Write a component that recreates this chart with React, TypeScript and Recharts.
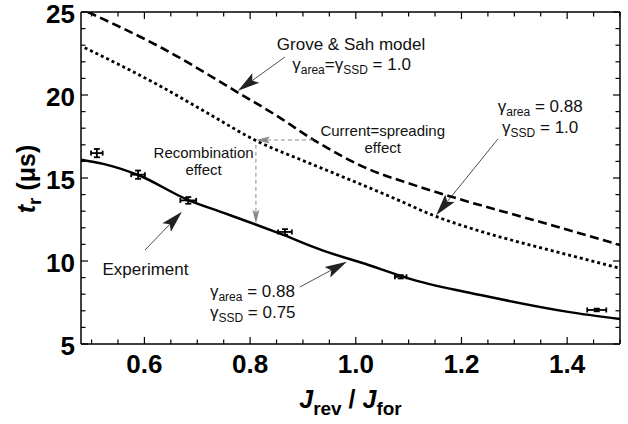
import React from 'react';
import {
  ComposedChart,
  Line,
  Scatter,
  ErrorBar,
  XAxis,
  YAxis,
  ReferenceLine,
  ReferenceDot,
} from 'recharts';

const FONT = '"Liberation Sans", Arial, Helvetica, sans-serif';

// Grove & Sah model (γarea = γSSD = 1.0)
const groveSahX = [0.493, 0.635, 0.777, 0.853, 0.92, 1.027, 1.1, 1.18, 1.336, 1.42, 1.5];
const groveSahY = [25.0, 22.8, 20.15, 18.7, 17.3, 15.5, 14.68, 13.88, 12.47, 11.7, 10.96];

// Current-spreading model (γarea = 0.88, γSSD = 1.0)
const spreadingX = [0.487, 0.632, 0.72, 0.815, 0.9, 0.964, 1.06, 1.153, 1.24, 1.33, 1.42, 1.5];
const spreadingY = [22.85, 20.5, 18.9, 17.19, 16.05, 15.22, 13.95, 12.67, 11.75, 10.96, 10.22, 9.56];

// Full model (γarea = 0.88, γSSD = 0.75)
const fullModelX = [0.48, 0.522, 0.588, 0.683, 0.75, 0.813, 0.863, 0.932, 1.024, 1.109, 1.236, 1.399, 1.5];
const fullModelY = [16.1, 15.85, 15.18, 13.67, 12.9, 12.17, 11.57, 10.7, 9.76, 8.86, 7.95, 6.95, 6.5];

// Measured recovery times with uncertainties
const expX = [0.51, 0.588, 0.683, 0.866, 1.085, 1.456];
const expY = [16.5, 15.2, 13.65, 11.75, 9.05, 7.05];
const expXErr = [0.011, 0.013, 0.015, 0.013, 0.011, 0.018];
const expYErr = [0.25, 0.25, 0.2, 0.17, 0.1, 0.08];

// Axis ticks
const xTickValues = [
  0.5, 0.55, 0.6, 0.65, 0.7, 0.75, 0.8, 0.85, 0.9, 0.95, 1.0,
  1.05, 1.1, 1.15, 1.2, 1.25, 1.3, 1.35, 1.4, 1.45, 1.5,
];
const xLabelTicks = [0.6, 0.8, 1.0, 1.2, 1.4];
const yTickValues = [5, 6, 7, 8, 9, 10, 11, 12, 13, 14, 15, 16, 17, 18, 19, 20, 21, 22, 23, 24, 25];
const yLabelTicks = [5, 10, 15, 20, 25];

const toRows = (xs: number[], ys: number[]) => xs.map((x, i) => ({ x, y: ys[i] }));
const groveSah = toRows(groveSahX, groveSahY);
const spreading = toRows(spreadingX, spreadingY);
const fullModel = toRows(fullModelX, fullModelY);
const experiment = expX.map((x, i) => ({ x, y: expY[i], ex: expXErr[i], ey: expYErr[i] }));

const isIn = (v: number, list: number[]) => list.some((t) => Math.abs(t - v) < 1e-6);

type Seg = [string, boolean?];

// Annotation text, placed in data coordinates
const notes: { x: number; y: number; anchor: string; size: number; segs: Seg[] }[] = [
  { x: 0.991, y: 22.71, anchor: 'middle', size: 17, segs: [['Grove & Sah model']] },
  { x: 0.992, y: 21.51, anchor: 'middle', size: 17, segs: [['γ'], ['area', true], ['=γ'], ['SSD', true], [' = 1.0']] },
  { x: 1.349, y: 18.98, anchor: 'middle', size: 17, segs: [['γ'], ['area', true], [' = 0.88']] },
  { x: 1.349, y: 17.71, anchor: 'middle', size: 17, segs: [['γ'], ['SSD', true], [' = 1.0']] },
  { x: 1.051, y: 17.53, anchor: 'middle', size: 15, segs: [['Current=spreading']] },
  { x: 1.051, y: 16.49, anchor: 'middle', size: 15, segs: [['effect']] },
  { x: 0.712, y: 16.2, anchor: 'middle', size: 15, segs: [['Recombination']] },
  { x: 0.712, y: 15.18, anchor: 'middle', size: 15, segs: [['effect']] },
  { x: 0.602, y: 9.16, anchor: 'middle', size: 17, segs: [['Experiment']] },
  { x: 0.724, y: 7.83, anchor: 'start', size: 17, segs: [['γ'], ['area', true], [' = 0.88']] },
  { x: 0.724, y: 6.58, anchor: 'start', size: 17, segs: [['γ'], ['SSD', true], [' = 0.75']] },
];

// Pointer arrows: from -> tip, in data coordinates
const blackArrows = [
  { from: { x: 0.866, y: 22.29 }, to: { x: 0.777, y: 20.25 } },
  { from: { x: 1.269, y: 17.35 }, to: { x: 1.152, y: 12.75 } },
  { from: { x: 0.601, y: 10.66 }, to: { x: 0.671, y: 12.97 } },
  { from: { x: 0.894, y: 8.43 }, to: { x: 0.983, y: 9.95 } },
];
const grayArrows = [
  { from: { x: 0.919, y: 17.29 }, to: { x: 0.811, y: 17.29 } },
  { from: { x: 0.811, y: 17.0 }, to: { x: 0.811, y: 12.25 } },
];

const RichText = ({ x, y, anchor, size, segs }: any) => {
  const sub = Math.round(size * 0.72);
  const shift = Math.round(size * 0.25);
  let cur = 0;
  return (
    <text x={x} y={y} textAnchor={anchor} fontFamily={FONT} fontSize={size} fill="#111">
      {segs.map(([t, isSub]: Seg, i: number) => {
        const target = isSub ? shift : 0;
        const dy = target - cur;
        cur = target;
        return (
          <tspan key={i} dy={dy} fontSize={isSub ? sub : size}>
            {t}
          </tspan>
        );
      })}
    </text>
  );
};

const makeArrow = (color: string, width: number, headLen: number, headHalf: number, dash?: string) =>
  (p: any) => {
    const { x1, y1, x2, y2 } = p;
    const dx = x2 - x1;
    const dy = y2 - y1;
    const len = Math.hypot(dx, dy) || 1;
    const ux = dx / len;
    const uy = dy / len;
    const bx = x2 - ux * headLen;
    const by = y2 - uy * headLen;
    const nx = x2 - ux * headLen * 0.8;
    const ny = y2 - uy * headLen * 0.8;
    const px = -uy;
    const py = ux;
    const pts = [
      `${x2},${y2}`,
      `${bx + px * headHalf},${by + py * headHalf}`,
      `${nx},${ny}`,
      `${bx - px * headHalf},${by - py * headHalf}`,
    ].join(' ');
    return (
      <g>
        <line x1={x1} y1={y1} x2={nx} y2={ny} stroke={color} strokeWidth={width} strokeDasharray={dash} />
        <polygon points={pts} fill={color} stroke="none" />
      </g>
    );
  };

const blackArrowShape = makeArrow('#222', 0.8, 22, 6);
const grayArrowShape = makeArrow('#8a8a8a', 1, 14, 3.5, '4 3');

const BottomTick = (props: any) => {
  const { x, y, payload } = props;
  const v = payload.value;
  const major = isIn(v, xLabelTicks);
  return (
    <g>
      <line x1={x} x2={x} y1={y} y2={y - (major ? 7 : 4.5)} stroke="#000" strokeWidth={1.2} />
      {major && (
        <text x={x} y={y + 29} textAnchor="middle" fontFamily={FONT} fontWeight="bold" fontSize={26} fill="#000">
          {v.toFixed(1)}
        </text>
      )}
    </g>
  );
};

const TopTick = (props: any) => {
  const { x, y, payload } = props;
  const major = isIn(payload.value, xLabelTicks);
  return <line x1={x} x2={x} y1={y} y2={y + (major ? 7 : 4.5)} stroke="#000" strokeWidth={1.2} />;
};

const LeftTick = (props: any) => {
  const { x, y, payload } = props;
  const v = payload.value;
  const major = isIn(v, yLabelTicks);
  return (
    <g>
      <line x1={x} x2={x + (major ? 7 : 4.5)} y1={y} y2={y} stroke="#000" strokeWidth={1.2} />
      {major && (
        <text x={x - 6} y={y + 11} textAnchor="end" fontFamily={FONT} fontWeight="bold" fontSize={26} fill="#000">
          {v}
        </text>
      )}
    </g>
  );
};

const RightTick = (props: any) => {
  const { x, y, payload } = props;
  const major = isIn(payload.value, yLabelTicks);
  return <line x1={x} x2={x - (major ? 7 : 4.5)} y1={y} y2={y} stroke="#000" strokeWidth={1.2} />;
};

const XTitle = (props: any) => {
  const vb = props.viewBox;
  const cx = vb.x + vb.width / 2;
  const by = vb.y + 64;
  return (
    <text x={cx} y={by} textAnchor="middle" fontFamily={FONT} fontWeight="bold" fontSize={25} fill="#000">
      <tspan fontStyle="italic">J</tspan>
      <tspan fontSize={19} dy={7}>rev</tspan>
      <tspan dy={-7}> / </tspan>
      <tspan fontStyle="italic">J</tspan>
      <tspan fontSize={19} dy={7}>for</tspan>
    </text>
  );
};

const YTitle = (props: any) => {
  const vb = props.viewBox;
  const bx = vb.x + 35;
  const cy = vb.y + vb.height / 2 + 1;
  return (
    <text
      transform={`translate(${bx}, ${cy}) rotate(-90)`}
      x={0}
      y={0}
      textAnchor="middle"
      fontFamily={FONT}
      fontWeight="bold"
      fontSize={25}
      fill="#000"
    >
      <tspan fontStyle="italic">t</tspan>
      <tspan fontSize={19} dy={6}>r</tspan>
      <tspan dy={-6}> (μs)</tspan>
    </text>
  );
};

const axisLine = { stroke: '#000', strokeWidth: 1.5 };

export default function App() {
  return (
    <div style={{ position: 'absolute', left: 0, top: 0, width: 628, height: 424, background: '#fff', overflow: 'hidden' }}>
      <ComposedChart width={628} height={424} margin={{ top: 11, right: 7, bottom: 0, left: 0 }}>
        <XAxis
          type="number"
          dataKey="x"
          domain={[0.48, 1.5]}
          allowDataOverflow
          ticks={xTickValues}
          interval={0}
          tickSize={0}
          tickMargin={0}
          tickLine={false}
          height={80}
          axisLine={axisLine}
          tick={BottomTick}
          label={{ content: XTitle }}
        />
        <XAxis
          xAxisId="top"
          orientation="top"
          type="number"
          dataKey="x"
          domain={[0.48, 1.5]}
          allowDataOverflow
          ticks={xTickValues}
          interval={0}
          tickSize={0}
          tickMargin={0}
          tickLine={false}
          height={1}
          axisLine={axisLine}
          tick={TopTick}
        />
        <YAxis
          type="number"
          dataKey="y"
          domain={[5, 25]}
          allowDataOverflow
          ticks={yTickValues}
          interval={0}
          tickSize={0}
          tickMargin={0}
          tickLine={false}
          width={81}
          axisLine={axisLine}
          tick={LeftTick}
          label={{ content: YTitle }}
        />
        <YAxis
          yAxisId="right"
          orientation="right"
          type="number"
          dataKey="y"
          domain={[5, 25]}
          allowDataOverflow
          ticks={yTickValues}
          interval={0}
          tickSize={0}
          tickMargin={0}
          tickLine={false}
          width={1}
          axisLine={axisLine}
          tick={RightTick}
        />

        {/* invisible series bound to the frame axes so they render */}
        <Line
          data={fullModel}
          dataKey="y"
          xAxisId="top"
          yAxisId="right"
          stroke="none"
          dot={false}
          activeDot={false}
          legendType="none"
          isAnimationActive={false}
        />

        <Line
          data={groveSah}
          dataKey="y"
          type="monotone"
          stroke="#000"
          strokeWidth={2.6}
          strokeDasharray="9 4.5"
          dot={false}
          activeDot={false}
          isAnimationActive={false}
        />
        <Line
          data={spreading}
          dataKey="y"
          type="monotone"
          stroke="#000"
          strokeWidth={2.8}
          strokeDasharray="3 3"
          dot={false}
          activeDot={false}
          isAnimationActive={false}
        />
        <Line
          data={fullModel}
          dataKey="y"
          type="monotone"
          stroke="#000"
          strokeWidth={2.5}
          dot={false}
          activeDot={false}
          isAnimationActive={false}
        />
        <Scatter data={experiment} dataKey="y" isAnimationActive={false} shape={() => <g />}>
          <ErrorBar dataKey="ex" direction="x" width={2.5} stroke="#000" strokeWidth={1.8} />
          <ErrorBar dataKey="ey" direction="y" width={3} stroke="#000" strokeWidth={1.8} />
        </Scatter>

        {grayArrows.map((a, i) => (
          <ReferenceLine key={`g${i}`} segment={[a.from, a.to]} shape={grayArrowShape} />
        ))}
        {blackArrows.map((a, i) => (
          <ReferenceLine key={`b${i}`} segment={[a.from, a.to]} shape={blackArrowShape} />
        ))}
        {notes.map((n, i) => (
          <ReferenceDot
            key={`n${i}`}
            x={n.x}
            y={n.y}
            r={0}
            shape={(p: any) => <RichText x={p.cx} y={p.cy} anchor={n.anchor} size={n.size} segs={n.segs} />}
          />
        ))}
      </ComposedChart>
    </div>
  );
}
